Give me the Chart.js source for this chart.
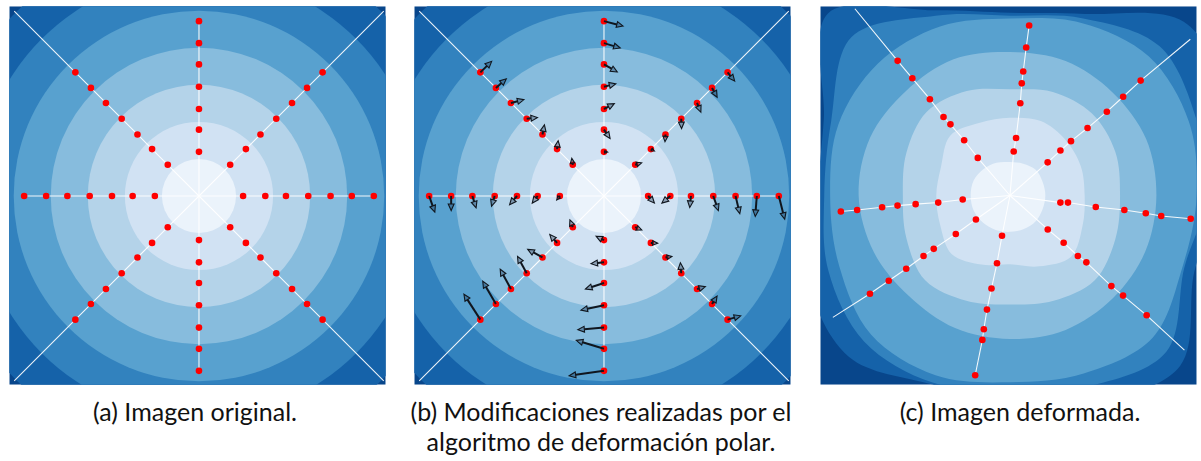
<!DOCTYPE html>
<html>
<head>
<meta charset="utf-8">
<script src="https://cdn.jsdelivr.net/npm/chart.js@4"></script>
<style>
  body { margin: 0; width: 1201px; height: 461px; background: #fff; position: relative; overflow: hidden; }
  canvas { position: absolute; }
  .cap { position: absolute; width: 440px; text-align: center; font-family: Lato, sans-serif; font-size: 25px; line-height: 30px; color: #111; white-space: nowrap; }
</style>
</head>
<body>
<canvas id="panelA" width="383" height="385" style="left:6px;top:3px"></canvas>
<canvas id="panelB" width="383" height="385" style="left:411px;top:3px"></canvas>
<canvas id="panelC" width="383" height="385" style="left:817px;top:3px"></canvas>
<div class="cap" style="left:-25px;top:396px">(a) Imagen original.</div>
<div class="cap" style="left:381px;top:396px">(b) Modificaciones realizadas por el<br>algoritmo de deformación polar.</div>
<div class="cap" style="left:800px;top:396px">(c) Imagen deformada.</div>
<script>
// rays: E, NE, N, NW, W, SW, S, SE (degrees, counter-clockwise)
const rayAngles = [0, 45, 90, 135, 180, 225, 270, 315];
// distance of the 7 control points from the centre, same on every ray
const dotRadii = [44.9, 67.5, 88.5, 111.2, 133.9, 155.5, 177.9];
// the diagonal guides run out to this x/y extent
const diagonalReach = 188;
// contour levels of the original image (concentric circles)
const ringRadii = [37.7, 75.4, 113.1, 150.8, 188.5, 226.2, 263.9];

// displacement of each control point (one row per ray, inner to outer)
const shiftX = [
  [6.4, -8.5, -1.2, 5.2, 4.3, -1.6, 6.0],
  [6.6, 3.6, -0.5, 0.3, 3.9, 5.2, 7.2],
  [3.8, 6.2, 10.5, 12.0, 13.5, 16.5, 19.5],
  [-1.0, 1.1, 2.0, 11.0, 13.2, 10.6, 11.5],
  [-3.2, -5.5, -7.5, -3.2, 3.8, 0.0, 5.8],
  [-2.9, -7.4, -15.0, -9.3, -10.9, -13.4, -16.7],
  [-8.1, -13.2, -18.8, -23.4, -26.6, -28.1, -35.4],
  [6.7, 6.9, 6.5, -0.9, 8.5, 5.1, 13.3]
];
const shiftY = [
  [-7.2, -7.2, -11.7, -14.8, -18.0, -20.8, -23.6],
  [2.0, -2.0, -7.3, -10.0, -9.4, -9.5, -8.9],
  [-0.2, -9.0, 5.4, 2.9, -7.7, -4.9, -5.0],
  [6.5, 8.5, 9.8, 1.2, 3.3, 9.3, 11.2],
  [-4.0, -7.2, -8.8, -10.3, -12.0, -14.8, -16.3],
  [7.4, 8.5, 8.3, 17.1, 20.2, 23.2, 25.9],
  [4.0, -1.4, -6.1, -4.9, -2.2, 8.6, -5.0],
  [-2.8, -0.3, 1.0, 10.6, 2.5, 8.1, 3.9]
];
// where the diagonal guides end after the warp
const warpedEnds = [null, [183.5, 159], null, [-157.8, 190], null, [-180.2, -124], null, [177.5, -157.3]];

// contour levels of the warped image, radius sampled every 22.5 degrees
const warpAngles = [0, 22.5, 45, 67.5, 90, 112.5, 135, 157.5, 180, 202.5, 225, 247.5, 270, 292.5, 315, 337.5];
const warpedRings = [
  [36, 36, 37, 35, 34, 36, 38, 40, 40, 40, 39, 38, 37, 37, 37, 36],
  [76, 78, 80, 82, 79, 80, 86, 76, 75, 77, 84, 76, 70, 78, 88, 80],
  [112, 116, 118, 114, 108, 115, 120, 114, 109, 114, 122, 116, 111, 116, 122, 116],
  [149, 150, 148, 148, 146, 150, 150, 154, 154, 150, 145, 146, 146, 148, 148, 149],
  [190, 197, 200, 190, 180, 186, 190, 189, 183, 188, 200, 198, 190, 196, 205, 190],
  [200, 205, 215, 195, 183, 198, 228, 197, 189, 200, 210, 206, 198, 210, 225, 192],
  [215, 240, 250, 200, 186, 204, 262, 205, 197, 222, 232, 208, 212, 228, 245, 203]
];

// Blues, light in the middle to dark at the corners
const ringColors = ['#ebf3fb', '#d1e2f3', '#b4d3e9', '#87bcdd', '#58a1cf', '#3282be', '#1562a9', '#08468b'];

const rad = d => d * Math.PI / 180;

function originalDots(ray) {
  const a = rad(rayAngles[ray]);
  return dotRadii.map(r => ({ x: r * Math.cos(a), y: r * Math.sin(a) }));
}
function warpedDots(ray) {
  return originalDots(ray).map((p, k) => ({ x: p.x + shiftX[ray][k], y: p.y + shiftY[ray][k] }));
}
function originalEnd(ray) {
  const a = rad(rayAngles[ray]);
  if (rayAngles[ray] % 90 === 0) return null;
  return { x: Math.sign(Math.cos(a)) * diagonalReach, y: Math.sign(Math.sin(a)) * diagonalReach };
}

// background contours, drawn under the datasets
function contourPlugin(warped) {
  return {
    id: 'contours',
    beforeDatasetsDraw(chart) {
      const { ctx, chartArea: ca, scales: { x, y } } = chart;
      const px = v => x.getPixelForValue(v), py = v => y.getPixelForValue(v);
      const unit = px(1) - px(0);
      ctx.save();
      ctx.beginPath();
      ctx.rect(ca.left, ca.top, ca.right - ca.left, ca.bottom - ca.top);
      ctx.clip();
      ctx.fillStyle = ringColors[ringColors.length - 1];
      ctx.fillRect(ca.left, ca.top, ca.right - ca.left, ca.bottom - ca.top);
      for (let i = ringRadii.length - 1; i >= 0; i--) {
        ctx.fillStyle = ringColors[i];
        ctx.beginPath();
        if (!warped) {
          ctx.arc(px(0), py(0), ringRadii[i] * unit, 0, Math.PI * 2);
        } else {
          const pts = warpAngles.map((a, j) => ({
            x: px(warpedRings[i][j] * Math.cos(rad(a))),
            y: py(warpedRings[i][j] * Math.sin(rad(a)))
          }));
          const n = pts.length;
          ctx.moveTo(pts[0].x, pts[0].y);
          for (let j = 0; j < n; j++) {
            const p0 = pts[(j - 1 + n) % n], p1 = pts[j], p2 = pts[(j + 1) % n], p3 = pts[(j + 2) % n];
            ctx.bezierCurveTo(p1.x + (p2.x - p0.x) / 6, p1.y + (p2.y - p0.y) / 6,
                              p2.x - (p3.x - p1.x) / 6, p2.y - (p3.y - p1.y) / 6, p2.x, p2.y);
          }
          ctx.closePath();
        }
        ctx.fill();
      }
      ctx.restore();
    }
  };
}

// displacement arrows from each original point
const arrowPlugin = {
  id: 'arrows',
  afterDatasetsDraw(chart) {
    const { ctx, scales: { x, y } } = chart;
    ctx.save();
    ctx.strokeStyle = '#10161e';
    ctx.lineJoin = 'miter';
    rayAngles.forEach((_, ray) => {
      const from = originalDots(ray), to = warpedDots(ray);
      from.forEach((p, k) => {
        const x0 = x.getPixelForValue(p.x), y0 = y.getPixelForValue(p.y);
        const x1 = x.getPixelForValue(to[k].x), y1 = y.getPixelForValue(to[k].y);
        const dx = x1 - x0, dy = y1 - y0, len = Math.hypot(dx, dy);
        if (len < 0.5) return;
        const ux = dx / len, uy = dy / len;
        const head = Math.min(6.5, len * 0.75), half = head * 0.45;
        const bx = x1 - ux * head, by = y1 - uy * head;
        ctx.lineWidth = 2;
        ctx.beginPath();
        ctx.moveTo(x0, y0);
        ctx.lineTo(bx, by);
        ctx.stroke();
        ctx.lineWidth = 1.1;
        ctx.beginPath();
        ctx.moveTo(x1, y1);
        ctx.lineTo(bx - uy * half, by + ux * half);
        ctx.lineTo(bx + uy * half, by - ux * half);
        ctx.closePath();
        ctx.fillStyle = 'rgba(20,40,70,0.35)';
        ctx.fill();
        ctx.stroke();
      });
    });
    ctx.restore();
  }
};

function buildPanel(id, warped, withArrows, yMax) {
  const datasets = [];
  const allDots = [];
  rayAngles.forEach((_, ray) => {
    const dots = warped ? warpedDots(ray) : originalDots(ray);
    allDots.push(...dots);
    let end = null;
    if (warped && warpedEnds[ray]) end = { x: warpedEnds[ray][0], y: warpedEnds[ray][1] };
    if (!warped) end = originalEnd(ray);
    const path = [{ x: 0, y: 0 }, ...dots];
    if (end) path.push(end);
    datasets.push({
      data: path, showLine: true, pointRadius: 0, borderWidth: 1.1,
      borderColor: 'rgba(255,255,255,0.92)', order: 2
    });
  });
  datasets.push({
    data: allDots, pointRadius: 3.3, pointHoverRadius: 3.3, borderWidth: 0,
    backgroundColor: '#ff0000', order: 1
  });
  const plugins = [contourPlugin(warped)];
  if (withArrows) plugins.push(arrowPlugin);
  return new Chart(document.getElementById(id), {
    type: 'scatter',
    data: { datasets },
    options: {
      responsive: false, animation: false, devicePixelRatio: 1, events: [],
      layout: { padding: 0 },
      plugins: { legend: { display: false }, tooltip: { enabled: false } },
      scales: {
        x: { type: 'linear', min: -193, max: 190, display: false },
        y: { type: 'linear', min: yMax - 385, max: yMax, display: false }
      }
    },
    plugins
  });
}

buildPanel('panelA', false, false, 193);
buildPanel('panelB', false, true, 193);
buildPanel('panelC', true, false, 192.5);
</script>
</body>
</html>
